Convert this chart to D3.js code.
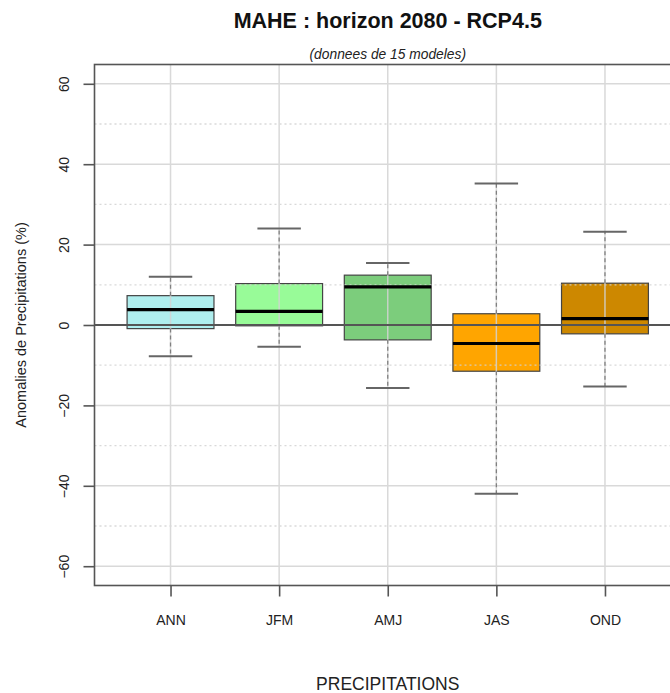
<!DOCTYPE html>
<html>
<head>
<meta charset="utf-8">
<script src="https://cdn.jsdelivr.net/npm/d3@7"></script>
<style>
  html, body { margin: 0; padding: 0; background: #fff; }
  svg { display: block; font-family: "Liberation Sans", Arial, Helvetica, sans-serif; }
</style>
</head>
<body>
<svg id="chart" width="670" height="693"></svg>
<script>
// Seasonal precipitation anomalies (%) across the 15-model ensemble
const categories = ["ANN", "JFM", "AMJ", "JAS", "OND"];
const whiskerLow = [-7.8, -5.4, -15.7, -42.0, -15.3];
const q1 = [-0.9, -0.2, -3.7, -11.5, -2.2];
const median = [3.8, 3.4, 9.5, -4.6, 1.6];
const q3 = [7.3, 10.3, 12.4, 2.8, 10.4];
const whiskerHigh = [12.0, 24.0, 15.4, 35.2, 23.2];
const boxColors = ["#afeeee", "#98fb98", "#7ccd7c", "#ffa500", "#cd8800"];
const yTicks = [-60, -40, -20, 0, 20, 40, 60];
const yMinor = [-50, -30, -10, 10, 30, 50];

const titleText = "MAHE : horizon 2080 - RCP4.5";
const subtitleText = "(donnees de 15 modeles)";
const yTitle = "Anomalies de Precipitations (%)";
const xTitle = "PRECIPITATIONS";

const svg = d3.select("#chart");
const plotLeft = 94.5, plotRight = 681, plotTop = 64.5, plotBottom = 585.5;

const x = d3.scaleLinear().domain([0.3, 5.7]).range([plotLeft, plotRight]);
const y = d3.scaleLinear().domain([-64.8, 64.8]).range([plotBottom, plotTop]);
const boxW = x(1.8) - x(1);   // box width of 0.8 category units
const capW = boxW / 2;

const data = categories.map((c, i) => ({
  cat: c, pos: i + 1, lo: whiskerLow[i], q1: q1[i], med: median[i],
  q3: q3[i], hi: whiskerHigh[i], color: boxColors[i]
}));

const clipId = "plotclip";
svg.append("defs").append("clipPath").attr("id", clipId)
  .append("rect").attr("x", plotLeft).attr("y", plotTop)
  .attr("width", plotRight - plotLeft).attr("height", plotBottom - plotTop);

const plot = svg.append("g").attr("clip-path", `url(#${clipId})`);

// box bodies
plot.selectAll("rect.body").data(data).join("rect").attr("class", "body")
  .attr("x", d => x(d.pos) - boxW / 2).attr("width", boxW)
  .attr("y", d => y(d.q3)).attr("height", d => y(d.q1) - y(d.q3))
  .attr("fill", d => d.color).attr("stroke", "#444").attr("stroke-width", 1.2);

// grid drawn across the boxes
const grid = plot.append("g").attr("stroke", "#d3d3d3").attr("opacity", 0.85);
grid.selectAll("line.hmaj").data(yTicks).join("line")
  .attr("x1", plotLeft).attr("x2", plotRight)
  .attr("y1", d => y(d)).attr("y2", d => y(d)).attr("stroke-width", 1.5);
grid.selectAll("line.hmin").data(yMinor).join("line")
  .attr("x1", plotLeft).attr("x2", plotRight)
  .attr("y1", d => y(d)).attr("y2", d => y(d))
  .attr("stroke-width", 1.3).attr("stroke-dasharray", "2,3");
grid.selectAll("line.v").data(data).join("line")
  .attr("x1", d => x(d.pos)).attr("x2", d => x(d.pos))
  .attr("y1", plotTop).attr("y2", plotBottom).attr("stroke-width", 1.5);

// whiskers, caps and medians
const g = plot.selectAll("g.box").data(data).join("g").attr("class", "box");
g.append("line")
  .attr("x1", d => x(d.pos)).attr("x2", d => x(d.pos))
  .attr("y1", d => y(d.q3)).attr("y2", d => y(d.hi))
  .attr("stroke", "#808080").attr("stroke-width", 1.3).attr("stroke-dasharray", "4,3");
g.append("line")
  .attr("x1", d => x(d.pos)).attr("x2", d => x(d.pos))
  .attr("y1", d => y(d.q1)).attr("y2", d => y(d.lo))
  .attr("stroke", "#808080").attr("stroke-width", 1.3).attr("stroke-dasharray", "4,3");
g.append("line")
  .attr("x1", d => x(d.pos) - capW / 2).attr("x2", d => x(d.pos) + capW / 2)
  .attr("y1", d => y(d.hi)).attr("y2", d => y(d.hi))
  .attr("stroke", "#666").attr("stroke-width", 2);
g.append("line")
  .attr("x1", d => x(d.pos) - capW / 2).attr("x2", d => x(d.pos) + capW / 2)
  .attr("y1", d => y(d.lo)).attr("y2", d => y(d.lo))
  .attr("stroke", "#666").attr("stroke-width", 2);
g.append("line")
  .attr("x1", d => x(d.pos) - boxW / 2).attr("x2", d => x(d.pos) + boxW / 2)
  .attr("y1", d => y(d.med)).attr("y2", d => y(d.med))
  .attr("stroke", "#000").attr("stroke-width", 3.2);

// zero reference line
plot.append("line")
  .attr("x1", plotLeft).attr("x2", plotRight).attr("y1", y(0)).attr("y2", y(0))
  .attr("stroke", "#555").attr("stroke-width", 2.2);

// frame
svg.append("rect").attr("x", plotLeft).attr("y", plotTop)
  .attr("width", plotRight - plotLeft).attr("height", plotBottom - plotTop)
  .attr("fill", "none").attr("stroke", "#555").attr("stroke-width", 1.6);

// y axis
const yAxis = svg.append("g").attr("transform", `translate(${plotLeft},0)`)
  .call(d3.axisLeft(y).tickValues(yTicks).tickSize(11).tickFormat(d3.format("d")));
yAxis.select(".domain").remove();
yAxis.selectAll(".tick line").attr("stroke", "#555").attr("stroke-width", 1.6);
yAxis.selectAll(".tick text")
  .attr("transform", "rotate(-90)")
  .attr("x", 0).attr("y", -26).attr("dy", null)
  .attr("text-anchor", "middle")
  .attr("font-size", 14).attr("fill", "#222")
  .style("font-family", "'Liberation Sans', Arial, sans-serif");

// x axis
const xAxis = svg.append("g").attr("transform", `translate(0,${plotBottom})`)
  .call(d3.axisBottom(x).tickValues(data.map(d => d.pos)).tickSize(11)
    .tickFormat((d, i) => categories[i]));
xAxis.select(".domain").remove();
xAxis.selectAll(".tick line").attr("stroke", "#555").attr("stroke-width", 1.6);
xAxis.selectAll(".tick text")
  .attr("y", 39).attr("dy", null)
  .attr("font-size", 14).attr("fill", "#222")
  .style("font-family", "'Liberation Sans', Arial, sans-serif");

const cx = (plotLeft + plotRight) / 2;

svg.append("text").attr("x", cx).attr("y", 28)
  .attr("text-anchor", "middle").attr("font-size", 21.5).attr("font-weight", "bold")
  .attr("fill", "#111").text(titleText);

svg.append("text").attr("x", cx).attr("y", 59)
  .attr("text-anchor", "middle").attr("font-size", 13.8).attr("font-style", "italic")
  .attr("fill", "#222").text(subtitleText);

svg.append("text").attr("transform", `translate(26,${(plotTop + plotBottom) / 2}) rotate(-90)`)
  .attr("text-anchor", "middle").attr("font-size", 14.5).attr("fill", "#222")
  .text(yTitle);

svg.append("text").attr("x", cx).attr("y", 690)
  .attr("text-anchor", "middle").attr("font-size", 17.5).attr("fill", "#222")
  .text(xTitle);
</script>
</body>
</html>
